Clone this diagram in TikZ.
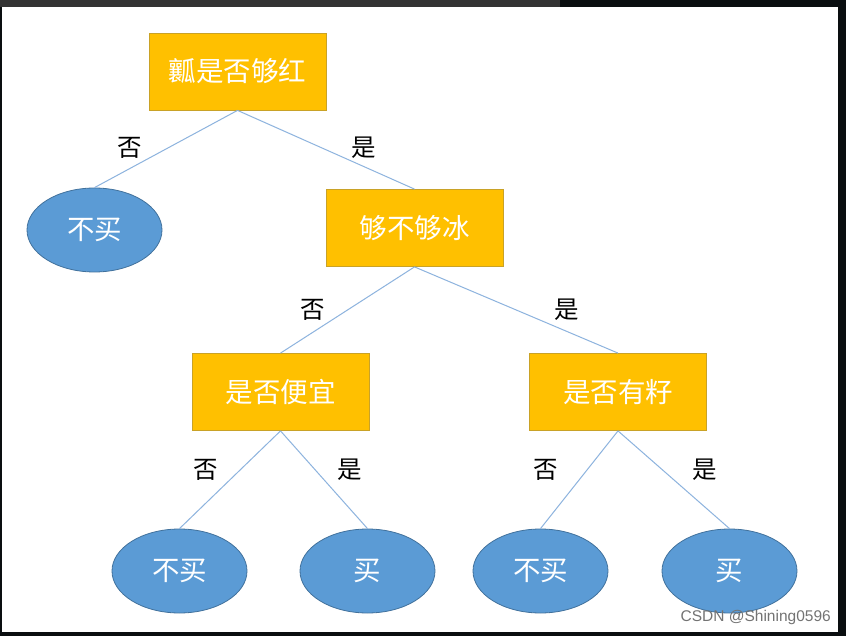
\documentclass[tikz,border=0pt]{standalone}
\usepackage{fontspec}
\newfontfamily\cjk{Noto Sans CJK SC}
\setmainfont{Liberation Sans}
\usetikzlibrary{shapes.geometric}
\definecolor{boxfill}{HTML}{FFC000}
\definecolor{boxline}{HTML}{C9A227}
\definecolor{ellfill}{HTML}{5B9BD5}
\definecolor{ellline}{HTML}{41719C}
\definecolor{edgecol}{HTML}{8DB3DE}
\definecolor{framedark}{HTML}{0A0E10}
\definecolor{framegray}{HTML}{333333}
\tikzset{
  qbox/.style={rectangle, fill=boxfill, draw=boxline, line width=0.8pt, minimum width=177pt, minimum height=77pt, inner sep=0pt, text=white, font=\cjk\fontsize{27.5}{30}\selectfont},
  leaf/.style={ellipse, fill=ellfill, draw=ellline, line width=0.8pt, minimum width=135pt, minimum height=84pt, inner sep=0pt, text=white, font=\cjk\fontsize{27.5}{30}\selectfont},
  edge/.style={draw=edgecol, line width=1pt},
  lab/.style={inner sep=0pt, text=black, font=\cjk\fontsize{24.5}{28}\selectfont}
}
\begin{document}
\begin{tikzpicture}[x=1pt,y=-1pt]
\useasboundingbox (0,0) rectangle (846,636);
\fill[framedark] (0,0) rectangle (846,636);
\fill[framegray] (0,0) rectangle (560,7);
\fill[white] (2,7) rectangle (838,632);

\node[qbox] (root) at (237.5,71.5) {瓤是否够红};
\node[leaf] (l1) at (94.5,230) {不买};
\node[qbox] (cold) at (414.5,228) {够不够冰};
\node[qbox] (cheap) at (280.5,392) {是否便宜};
\node[qbox] (seed) at (618,392) {是否有籽};
\node[leaf] (l2) at (179.5,571) {不买};
\node[leaf] (l3) at (367.5,571) {买};
\node[leaf] (l4) at (540.5,571) {不买};
\node[leaf] (l5) at (729.5,571) {买};

\path[edge] (root.south) -- (l1.north);
\path[edge] (root.south) -- (cold.north);
\path[edge] (cold.south) -- (cheap.north);
\path[edge] (cold.south) -- (seed.north);
\path[edge] (cheap.south) -- (l2.north);
\path[edge] (cheap.south) -- (l3.north);
\path[edge] (seed.south) -- (l4.north);
\path[edge] (seed.south) -- (l5.north);

\node[lab] (a1) at (130,148) {否};
\node[lab] (a2) at (364,148) {是};
\node[lab] (a3) at (313,310) {否};
\node[lab] (a4) at (567,310) {是};
\node[lab] (a5) at (206,470) {否};
\node[lab] (a6) at (350,470) {是};
\node[lab] (a7) at (546,470) {否};
\node[lab] (a8) at (705,470) {是};

\node[anchor=east, inner sep=0pt, text=black!55, font=\fontsize{15.5}{18}\selectfont] (wm) at (831,617) {CSDN @Shining0596};
\end{tikzpicture}
\end{document}
